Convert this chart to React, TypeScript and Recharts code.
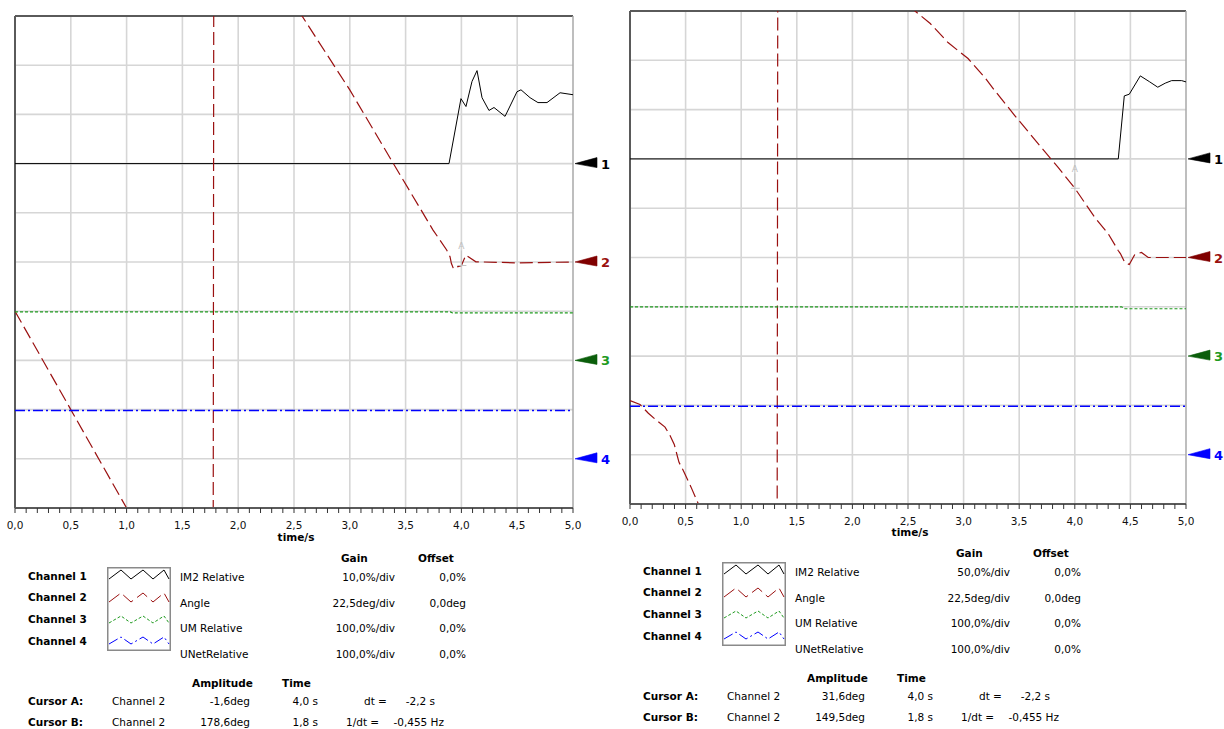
import React from 'react';
import { LineChart, Line, XAxis, YAxis, CartesianGrid, ReferenceLine, ReferenceDot } from 'recharts';

// ---------- shared scale data ----------
const MAJOR_TICKS = [0, 0.5, 1, 1.5, 2, 2.5, 3, 3.5, 4, 4.5, 5];
const MINOR_STEPS = 5;
const GRID_X = [0.5, 1, 1.5, 2, 2.5, 3, 3.5, 4, 4.5];
const GRID_DIVS = [1, 2, 3, 4, 5, 6, 7, 8, 9];
const TOTAL_DIVS = 10;
const MARKER_DIVS = [3, 5, 7, 9]; // channel zero marker, divisions from the top
const CHANNEL_LABELS = ['Channel 1', 'Channel 2', 'Channel 3', 'Channel 4'];
const CHANNEL_NAMES = ['IM2 Relative', 'Angle', 'UM Relative', 'UNetRelative'];
const CHANNEL_COLORS = ['#000000', '#9a1010', '#1f9a1f', '#0000ff'];
const MARKER_COLORS = ['#000000', '#800000', '#0b5e0b', '#0000ff'];
const CHANNEL_DASH = [undefined, '13 5', '3 2', '10 3 2 3'];
const CHANNEL_WIDTH = [1, 1.2, 1.2, 1.5];

// ---------- left panel data ----------
const L_GAINS = [10, 22.5, 100, 100];
const L_GAIN_TEXT = ['10,0%/div', '22,5deg/div', '100,0%/div', '100,0%/div'];
const L_OFFSET_TEXT = ['0,0%', '0,0deg', '0,0%', '0,0%'];
const L_IM2_T = [0, 3.889, 3.996, 4.041, 4.095, 4.14, 4.185, 4.247, 4.292, 4.391, 4.498, 4.534, 4.615, 4.686, 4.767, 4.884, 5.0];
const L_IM2_V = [0, 0, 13.2, 11.6, 16.7, 18.9, 13.4, 10.8, 11.4, 9.6, 14.6, 15.0, 13.4, 12.4, 12.4, 14.4, 14.0];
const L_ANGLE_T = [0, 0.5, 1.0, 1.4, 1.775, 1.782, 1.8, 2.2, 2.572, 3.0, 3.387, 3.746, 3.868, 3.898, 3.91, 3.93, 3.97, 4.0, 4.04, 4.13, 4.5, 5.0];
const L_ANGLE_V = [-22.5, -67.5, -112.5, -147, -180, 180, 178.6, 145, 112.5, 78.7, 45.3, 14.6, 5.5, 2.4, -0.6, -3.2, -2.1, -1.6, 3.2, 0.1, -0.4, 0];
const L_UM_T = [0, 3.9, 3.92, 5];
const L_UM_V = [98.5, 98.5, 96.5, 96.5];
const L_UNET_T = [0, 5];
const L_UNET_V = [98, 98];
const L_CURSOR = { aTime: 4.0, aAmp: -1.6, aText: '-1,6deg', aTimeText: '4,0 s', bAmpText: '178,6deg', bTimeText: '1,8 s' };

// ---------- right panel data ----------
const R_GAINS = [50, 22.5, 100, 100];
const R_GAIN_TEXT = ['50,0%/div', '22,5deg/div', '100,0%/div', '100,0%/div'];
const R_OFFSET_TEXT = ['0,0%', '0,0deg', '0,0%', '0,0%'];
const R_IM2_T = [0, 4.391, 4.445, 4.49, 4.589, 4.67, 4.746, 4.813, 4.871, 4.961, 5.0];
const R_IM2_V = [0, 0, 63.9, 65.6, 84.2, 78.4, 72.7, 76.8, 79.4, 79.4, 78.1];
const R_ANGLE_T = [0, 0.09, 0.165, 0.24, 0.315, 0.36, 0.398, 0.44, 0.479, 0.549, 0.614, 0.9, 1.322, 1.33, 1.8, 2.2, 2.563, 2.7, 2.86, 3.04, 3.19, 3.28, 3.46, 3.67, 3.85, 4.0, 4.18, 4.3, 4.39, 4.41, 4.45, 4.49, 4.54, 4.6, 4.66, 5.0];
const R_ANGLE_V = [-65.3, -67.1, -71.1, -74.4, -77.4, -81.2, -85.3, -93.4, -97.2, -104.8, -112.4, -145, -180, 180, 149.5, 130, 112.5, 106.8, 98.1, 90.8, 82.2, 76.2, 64.8, 52.0, 41.1, 31.6, 18.3, 10.9, 3.2, 1.8, -2.3, -3.2, 1.4, 2.3, 0, 0];
const R_UM_T = [0, 4.42, 4.45, 5];
const R_UM_V = [100, 100, 96, 96];
const R_UNET_T = [0, 5];
const R_UNET_V = [98.5, 98.5];
const R_CURSOR = { aTime: 4.0, aAmp: 31.6, aText: '31,6deg', aTimeText: '4,0 s', bAmpText: '149,5deg', bTimeText: '1,8 s' };

const DT_TEXT = '-2,2 s';
const INV_DT_TEXT = '-0,455 Hz';

const FONT = "'DejaVu Sans', Verdana, sans-serif";

const zip = (t: number[], v: number[]) => t.map((x, i) => ({ t: x, v: v[i] }));
const fmt = (v: number) => v.toFixed(1).replace('.', ',');

const ALL_TICKS: number[] = [];
for (let i = 0; i < MAJOR_TICKS.length - 1; i++) {
  for (let k = 0; k < MINOR_STEPS; k++) {
    ALL_TICKS.push(+(MAJOR_TICKS[i] + (k * (MAJOR_TICKS[i + 1] - MAJOR_TICKS[i])) / MINOR_STEPS).toFixed(3));
  }
}
ALL_TICKS.push(MAJOR_TICKS[MAJOR_TICKS.length - 1]);

const TickLabel = (props: any) => {
  const { x, y, payload } = props;
  const v = payload.value;
  const isMajor = MAJOR_TICKS.some((m) => Math.abs(m - v) < 1e-6);
  if (!isMajor) return null;
  return (
    <text x={x} y={y + 14} textAnchor="middle" fontFamily={FONT} fontSize={10.5} fill="#111">
      {fmt(v)}
    </text>
  );
};

const makeMarker = (idx: number) => (p: any) => {
  const { cx, cy } = p;
  const c = MARKER_COLORS[idx];
  return (
    <g>
      <polygon points={`${cx + 2},${cy} ${cx + 24},${cy - 6} ${cx + 24},${cy + 4}`} fill={c} stroke={c} strokeWidth={0.6} />
      <text x={cx + 28} y={cy + 5} fontFamily={FONT} fontWeight="bold" fontSize={13} fill={CHANNEL_COLORS[idx]}>
        {String(idx + 1)}
      </text>
    </g>
  );
};

const CursorMark = (p: any) => {
  const { cx, cy } = p;
  return (
    <g stroke="#c4c4c4" strokeWidth={1}>
      <line x1={cx} y1={cy - 15} x2={cx} y2={cy + 1} />
      <line x1={cx - 4} y1={cy} x2={cx + 5} y2={cy} />
      <text x={cx} y={cy - 16} textAnchor="middle" fontFamily={FONT} fontSize={9} fill="#c0c0c0" stroke="none">
        A
      </text>
    </g>
  );
};

type TxtProps = { x: number; y: number; text: string; bold?: boolean; align?: 'left' | 'right' | 'center' };
const Txt = ({ x, y, text, bold, align = 'left' }: TxtProps) => {
  const style: React.CSSProperties = {
    position: 'absolute',
    top: y - 7,
    height: 14,
    lineHeight: '14px',
    fontFamily: FONT,
    fontSize: 10.5,
    fontWeight: bold ? 'bold' : 'normal',
    whiteSpace: 'nowrap',
    color: '#000',
  };
  if (align === 'left') style.left = x;
  else if (align === 'right') {
    style.left = x - 300;
    style.width = 300;
    style.textAlign = 'right';
  } else {
    style.left = x - 150;
    style.width = 300;
    style.textAlign = 'center';
  }
  return <div style={style}>{text}</div>;
};

const Swatch = ({ x, y }: { x: number; y: number }) => {
  const rowOff = [0, 23, 46, 67];
  const amp = [9, 9, 7, 7];
  const xs = [2, 14, 24, 36, 46, 57, 62];
  return (
    <svg width={64} height={84} style={{ position: 'absolute', left: x, top: y }}>
      <rect x={0.75} y={0.75} width={62.5} height={82.5} fill="#fff" stroke="#8a8a8a" strokeWidth={1.5} />
      {rowOff.map((o, i) => {
        const pts = xs
          .map((px, k) => {
            const up = k % 2 === 1;
            const base = o + 3;
            return `${px},${up ? base : base + amp[i]}`;
          })
          .join(' ');
        return (
          <polyline key={i} points={pts} fill="none" stroke={CHANNEL_COLORS[i]} strokeWidth={1} strokeDasharray={CHANNEL_DASH[i]} />
        );
      })}
    </svg>
  );
};

type PanelProps = {
  ox: number;
  oy: number;
  plotW: number;
  plotH: number;
  clipX: number;
  gains: number[];
  gainText: string[];
  offsetText: string[];
  series: { t: number; v: number }[][];
  cursor: typeof L_CURSOR;
};

const Panel = ({ ox, oy, plotW, plotH, clipX, gains, gainText, offsetText, series, cursor }: PanelProps) => {
  const chartW = 620 - clipX;
  const top = 16;
  const xAxisH = 30;
  const chartH = top + plotH + xAxisH + 7;
  const domains = gains.map((g, i) => [-(TOTAL_DIVS - MARKER_DIVS[i]) * g, MARKER_DIVS[i] * g]);
  const rowsY = [577, 603, 628, 654];
  const chY = [576, 597, 619, 641];
  return (
    <div style={{ position: 'absolute', left: ox, top: oy, width: 615, height: 735 }}>
      <div style={{ position: 'absolute', left: clipX, top: 0, width: chartW, height: chartH, overflow: 'hidden' }}>
        <LineChart
          width={chartW}
          height={chartH}
          margin={{ top, left: 15 - clipX, right: chartW - (15 - clipX) - plotW, bottom: 7 }}
        >
          <CartesianGrid
            yAxisId="grid"
            horizontalValues={GRID_DIVS}
            verticalValues={GRID_X}
            stroke="#d6d6d6"
            strokeWidth={1.6}
          />
          <XAxis
            dataKey="t"
            type="number"
            domain={[0, 5]}
            ticks={ALL_TICKS}
            interval={0}
            allowDataOverflow
            height={xAxisH}
            tickSize={5}
            tickMargin={2}
            tick={<TickLabel />}
            tickLine={{ stroke: '#333', strokeWidth: 1 }}
            axisLine={{ stroke: '#5a5a5a', strokeWidth: 2 }}
          />
          <YAxis yAxisId="grid" type="number" domain={[0, TOTAL_DIVS]} ticks={GRID_DIVS} hide allowDataOverflow />
          {domains.map((d, i) => (
            <YAxis key={i} yAxisId={`c${i + 1}`} type="number" domain={d} hide allowDataOverflow />
          ))}
          <ReferenceLine yAxisId="grid" y={TOTAL_DIVS} stroke="#5a5a5a" strokeWidth={2} />
          <ReferenceLine yAxisId="grid" x={0} stroke="#5a5a5a" strokeWidth={2} />
          <ReferenceLine yAxisId="grid" x={5} stroke="#a8a8a8" strokeWidth={1.5} />
          {series.map((s, i) => (
            <Line
              key={i}
              data={s}
              dataKey="v"
              yAxisId={`c${i + 1}`}
              type="linear"
              dot={false}
              activeDot={false}
              stroke={CHANNEL_COLORS[i]}
              strokeWidth={CHANNEL_WIDTH[i]}
              strokeDasharray={CHANNEL_DASH[i]}
              isAnimationActive={false}
            />
          ))}
          <ReferenceDot yAxisId="c2" x={cursor.aTime} y={cursor.aAmp} ifOverflow="visible" shape={CursorMark} />
          {MARKER_DIVS.map((_, i) => (
            <ReferenceDot key={`m${i}`} yAxisId={`c${i + 1}`} x={5} y={0} ifOverflow="visible" shape={makeMarker(i)} />
          ))}
        </LineChart>
      </div>
      <Txt x={15 + plotW / 2 + 2} y={537} text="time/s" bold align="center" />
      <Txt x={341} y={558} text="Gain" bold />
      <Txt x={418} y={558} text="Offset" bold />
      {CHANNEL_LABELS.map((c, i) => (
        <Txt key={c} x={28} y={chY[i]} text={c} bold />
      ))}
      <Swatch x={107} y={567} />
      {CHANNEL_NAMES.map((n, i) => (
        <React.Fragment key={n}>
          <Txt x={180} y={rowsY[i]} text={n} />
          <Txt x={395} y={rowsY[i]} text={gainText[i]} align="right" />
          <Txt x={466} y={rowsY[i]} text={offsetText[i]} align="right" />
        </React.Fragment>
      ))}
      <Txt x={192} y={683} text="Amplitude" bold />
      <Txt x={282} y={683} text="Time" bold />
      <Txt x={28} y={701} text="Cursor A:" bold />
      <Txt x={112} y={701} text="Channel 2" />
      <Txt x={250} y={701} text={cursor.aText} align="right" />
      <Txt x={318} y={701} text={cursor.aTimeText} align="right" />
      <Txt x={364} y={701} text="dt =" />
      <Txt x={435} y={701} text={DT_TEXT} align="right" />
      <Txt x={28} y={722} text="Cursor B:" bold />
      <Txt x={112} y={722} text="Channel 2" />
      <Txt x={250} y={722} text={cursor.bAmpText} align="right" />
      <Txt x={318} y={722} text={cursor.bTimeText} align="right" />
      <Txt x={346} y={722} text="1/dt =" />
      <Txt x={444} y={722} text={INV_DT_TEXT} align="right" />
    </div>
  );
};

export default function App() {
  const leftSeries = [zip(L_IM2_T, L_IM2_V), zip(L_ANGLE_T, L_ANGLE_V), zip(L_UM_T, L_UM_V), zip(L_UNET_T, L_UNET_V)];
  const rightSeries = [zip(R_IM2_T, R_IM2_V), zip(R_ANGLE_T, R_ANGLE_V), zip(R_UM_T, R_UM_V), zip(R_UNET_T, R_UNET_V)];
  return (
    <div style={{ position: 'absolute', left: 0, top: 0, width: 1224, height: 729, background: '#fff', overflow: 'hidden' }}>
      <Panel ox={0} oy={0} plotW={558} plotH={492} clipX={4} gains={L_GAINS} gainText={L_GAIN_TEXT} offsetText={L_OFFSET_TEXT} series={leftSeries} cursor={L_CURSOR} />
      <Panel ox={615} oy={-5} plotW={556} plotH={493} clipX={4} gains={R_GAINS} gainText={R_GAIN_TEXT} offsetText={R_OFFSET_TEXT} series={rightSeries} cursor={R_CURSOR} />
    </div>
  );
}
